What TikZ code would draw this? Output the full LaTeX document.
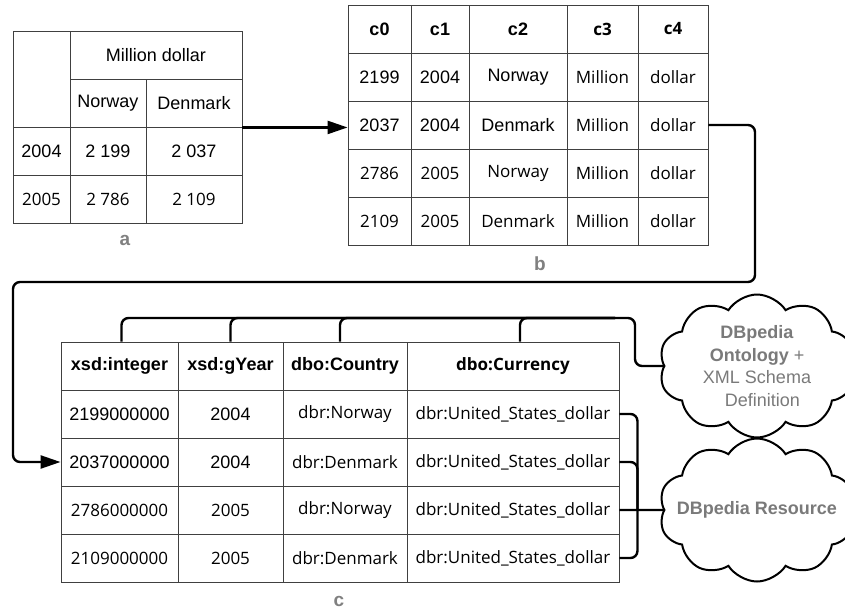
\documentclass[tikz,border=0pt]{standalone}
\usepackage{fontspec}
\setmainfont{Liberation Sans}
\newfontfamily\opensans{Open Sans}
\usetikzlibrary{positioning,shapes.symbols,arrows.meta}
\tikzset{
  cellbox/.style={draw=black!75, line width=0.9pt, inner sep=0pt, minimum height=48pt,
                  font=\fontsize{18}{21}\selectfont},
  oscell/.style={cellbox, font=\opensans\fontsize{17}{20}\selectfont},
  headcell/.style={cellbox, font=\bfseries\fontsize{18}{21}\selectfont},
  osheadcell/.style={cellbox, font=\opensans\bfseries\fontsize{17}{20}\selectfont},
  tablelabel/.style={text=black!50, font=\bfseries\fontsize{19}{22}\selectfont},
  conn/.style={line width=2.4pt, rounded corners=7pt},
  headtip/.style={-{Triangle[length=20pt,width=13pt]}},
  cloudbox/.style={cloud, cloud puffs=10, cloud puff arc=115, cloud ignores aspect,
                   draw, line width=2pt, fill=white, minimum width=196pt,
                   minimum height=143pt, inner sep=0pt},
  cloudtext/.style={text=black!52, align=center, font=\fontsize{18}{22.5}\selectfont}
}
\newcommand{\cell}[5][cellbox]{\node[#1, minimum width=#4pt] (#2) at (#3) {#5};}

\begin{document}
\begin{tikzpicture}[x=1pt,y=-1pt]
  \path[use as bounding box, fill=white] (0,0) rectangle (845,610);

  % table a
  \cell[cellbox,minimum height=96pt]{a00}{41.5,79}{57}{}
  \cell{a01}{156,55}{172}{Million dollar}
  \cell{a11}{108,103}{76}{Norway}
  \cell{a12}{194,103}{96}{Denmark}
  \cell{a20}{41.5,151}{57}{2004}
  \cell{a21}{108,151}{76}{2 199}
  \cell{a22}{194,151}{96}{2 037}
  \cell[oscell]{a30}{41.5,199}{57}{2005}
  \cell[oscell]{a31}{108,199}{76}{2 786}
  \cell[oscell]{a32}{194,199}{96}{2 109}
  \node[tablelabel] (la) at (125,240) {a};

  % table b
  \cell[headcell]{b00}{379.5,29}{63}{c0}
  \cell[headcell]{b01}{440,29}{58}{c1}
  \cell[headcell]{b02}{518,29}{98}{c2}
  \cell[osheadcell]{b03}{602.5,29}{71}{c3}
  \cell[osheadcell]{b04}{673,29}{70}{c4}

  \cell{b10}{379.5,77}{63}{2199}
  \cell{b11}{440,77}{58}{2004}
  \cell{b12}{518,77}{98}{Norway}
  \cell[oscell]{b13}{602.5,77}{71}{Million}
  \cell[oscell]{b14}{673,77}{70}{dollar}

  \cell{b20}{379.5,125}{63}{2037}
  \cell{b21}{440,125}{58}{2004}
  \cell{b22}{518,125}{98}{Denmark}
  \cell[oscell]{b23}{602.5,125}{71}{Million}
  \cell[oscell]{b24}{673,125}{70}{dollar}

  \cell[oscell]{b30}{379.5,173}{63}{2786}
  \cell[oscell]{b31}{440,173}{58}{2005}
  \cell[oscell]{b32}{518,173}{98}{Norway}
  \cell[oscell]{b33}{602.5,173}{71}{Million}
  \cell[oscell]{b34}{673,173}{70}{dollar}

  \cell[oscell]{b40}{379.5,221}{63}{2109}
  \cell[oscell]{b41}{440,221}{58}{2005}
  \cell[oscell]{b42}{518,221}{98}{Denmark}
  \cell[oscell]{b43}{602.5,221}{71}{Million}
  \cell[oscell]{b44}{673,221}{70}{dollar}
  \node[tablelabel] (lb) at (540,264) {b};

  % table c
  \cell[headcell]{c00}{119.5,366}{117}{xsd:integer}
  \cell[headcell]{c01}{230.5,366}{105}{xsd:gYear}
  \cell[headcell]{c02}{345,366}{124}{dbo:Country}
  \cell[osheadcell]{c03}{513,366}{212}{dbo:Currency}

  \cell{c10}{119.5,414}{117}{2199000000}
  \cell{c11}{230.5,414}{105}{2004}
  \cell[oscell]{c12}{345,414}{124}{dbr:Norway}
  \cell[oscell]{c13}{513,414}{212}{dbr:United\_States\_dollar}

  \cell{c20}{119.5,462}{117}{2037000000}
  \cell{c21}{230.5,462}{105}{2004}
  \cell[oscell]{c22}{345,462}{124}{dbr:Denmark}
  \cell[oscell]{c23}{513,462}{212}{dbr:United\_States\_dollar}

  \cell[oscell]{c30}{119.5,510}{117}{2786000000}
  \cell[oscell]{c31}{230.5,510}{105}{2005}
  \cell[oscell]{c32}{345,510}{124}{dbr:Norway}
  \cell[oscell]{c33}{513,510}{212}{dbr:United\_States\_dollar}

  \cell[oscell]{c40}{119.5,558}{117}{2109000000}
  \cell[oscell]{c41}{230.5,558}{105}{2005}
  \cell[oscell]{c42}{345,558}{124}{dbr:Denmark}
  \cell[oscell]{c43}{513,558}{212}{dbr:United\_States\_dollar}
  \node[tablelabel] (lc) at (339,601) {c};

  % clouds
  \node[cloudbox, label={[cloudtext]center:{\textbf{DBpedia}\\\textbf{Ontology} +\\XML Schema\\\hspace{0.6em}Definition}}]
    (onto) at (757,366) {};
  \node[cloudbox, label={[cloudtext]center:{\textbf{DBpedia Resource}}}]
    (res) at (757,510) {};

  % a -> b -> c
  \draw[conn,headtip] (a12.south east) -- (a12.south east -| b20.west);
  \coordinate (bturn) at (755,282);
  \coordinate (cturn) at (13,282);
  \draw[conn,headtip] (b24.east) -| (bturn) -- (cturn) |- (c20.west);

  % header types -> ontology
  \coordinate (obus) at (635,318);
  \coordinate[left=20pt of obus] (obend);
  \draw[conn] ([xshift=2pt]c00.north) |- (obus) |- (onto.west);
  \draw[conn] (c01.north) |- (obend);
  \draw[conn] ([xshift=-5pt]c02.north) |- (obend);
  \draw[conn] ([xshift=7pt]c03.north) |- (obend);

  % currency values -> resource
  \coordinate[right=18pt of c33.east] (rjoin);
  \draw[conn] (c13.east) -| (rjoin);
  \draw[conn] (c23.east) -| (rjoin);
  \draw[conn] (c43.east) -| (rjoin);
  \draw[conn] (c33.east) -- (res.west);
\end{tikzpicture}
\end{document}
